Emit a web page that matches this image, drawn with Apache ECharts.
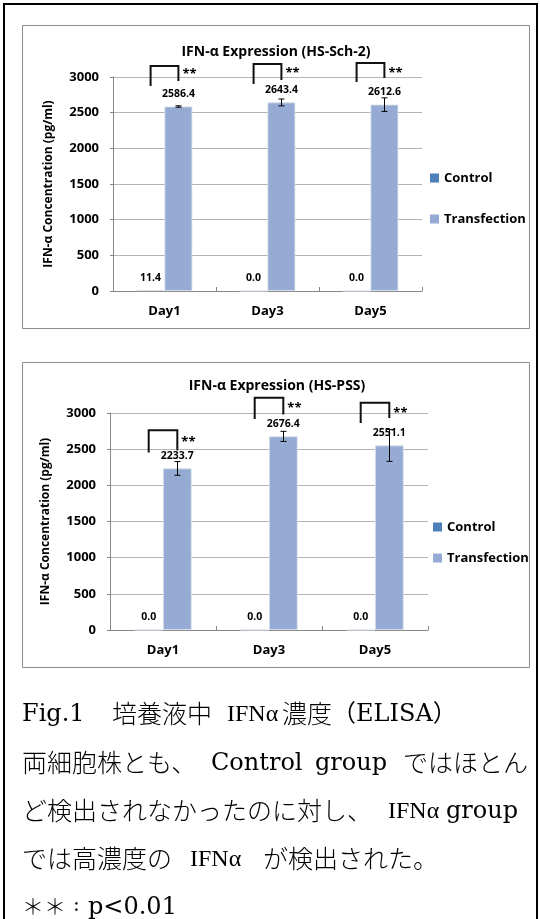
<!DOCTYPE html>
<html>
<head>
<meta charset="utf-8">
<script src="https://cdn.jsdelivr.net/npm/echarts@6/dist/echarts.min.js"></script>
<style>
html,body{margin:0;padding:0;background:#fff;}
#c{width:540px;height:919px;}
</style>
</head>
<body>
<div id="c"></div>
<script>
// ---------- data ----------
const days = ['Day1', 'Day3', 'Day5'];
const seriesNames = ['Control', 'Transfection'];

const sch2Control = [11.4, 0.0, 0.0];
const sch2Transfection = [2586.4, 2643.4, 2612.6];
const sch2TransErr = [10, 48, 95];
// significance bracket levels (value units): top, left leg end, right leg end, star level
const sch2BracketTop = [3154, 3182, 3196];
const sch2BracketLeft = [2874, 2902, 2930];
const sch2BracketRight = [2944, 2958, 2986];
const sch2Star = [3042, 3056, 3056];

const pssControl = [0.0, 0.0, 0.0];
const pssTransfection = [2233.7, 2676.4, 2551.1];
const pssTransErr = [95, 70, 220];
const pssBracketTop = [2760, 3210, 3141];
const pssBracketLeft = [2453, 2916, 2861];
const pssBracketRight = [2480, 2980, 2930];
const pssStar = [2600, 3070, 3000];

const sigMark = '**';
const titles = ['IFN-\u03b1 Expression (HS-Sch-2)', 'IFN-\u03b1 Expression (HS-PSS)'];
const yName = 'IFN-\u03b1 Concentration (pg/ml)';

// ---------- styles ----------
const FONT = "'Open Sans', 'DejaVu Sans', sans-serif";
const BAR_FRAC = 0.27;
const colControl = '#4f7fbb';
const colTrans = '#95abd3';

const chart = echarts.init(document.getElementById('c'), null, {renderer: 'canvas'});

function errSeries(g, vals, errs) {
  return {
    type: 'custom', xAxisIndex: g, yAxisIndex: g, z: 5, silent: true,
    data: vals.map((v, i) => [i, v, errs[i]]),
    encode: {x: 0, y: 1},
    renderItem: function (params, api) {
      const i = api.value(0), v = api.value(1), e = api.value(2);
      const w = api.size([1, 0])[0];
      const off = w * BAR_FRAC / 2;
      const pt = api.coord([i, v + e]), pb = api.coord([i, v - e]);
      const x = Math.round(pt[0] + off) + 0.5;
      const s = {stroke: '#000', lineWidth: 1};
      return {type: 'group', children: [
        {type: 'line', shape: {x1: x, y1: pt[1], x2: x, y2: pb[1]}, style: s},
        {type: 'line', shape: {x1: x - 3, y1: pt[1], x2: x + 3, y2: pt[1]}, style: s},
        {type: 'line', shape: {x1: x - 3, y1: pb[1], x2: x + 3, y2: pb[1]}, style: s}
      ]};
    }
  };
}

function bracketSeries(g, tops, lefts, rights, stars) {
  return {
    type: 'custom', xAxisIndex: g, yAxisIndex: g, z: 6, silent: true, clip: false,
    data: tops.map((t, i) => [i, t, lefts[i], rights[i], stars[i]]),
    encode: {x: 0, y: 1},
    renderItem: function (params, api) {
      const i = api.value(0);
      const w = api.size([1, 0])[0];
      const off = w * BAR_FRAC / 2;
      const pT = api.coord([i, api.value(1)]);
      const yL = api.coord([i, api.value(2)])[1];
      const yR = api.coord([i, api.value(3)])[1];
      const yS = api.coord([i, api.value(4)])[1];
      const xl = pT[0] - off, xr = pT[0] + off;
      return {type: 'group', children: [
        {type: 'polyline', shape: {points: [[xl, yL], [xl, pT[1]], [xr, pT[1]], [xr, yR]]},
         style: {stroke: '#111', lineWidth: 2, fill: null}},
        {type: 'text', x: xr + 4, y: yS,
         style: {text: sigMark, font: 'bold 13px ' + FONT, fill: '#000', textVerticalAlign: 'middle', textAlign: 'left'}}
      ]};
    }
  };
}

function barSeries(g, name, vals, color) {
  return {
    name: name, type: 'bar', xAxisIndex: g, yAxisIndex: g,
    data: vals, barWidth: (BAR_FRAC * 100) + '%', barGap: '0%',
    itemStyle: {color: color, borderColor: '#d9dfea', borderWidth: 0.8},
    label: {show: true, position: 'top', distance: 7, color: '#000',
      fontFamily: FONT, fontWeight: 'bold', fontSize: 10.5,
      formatter: p => Number(p.value).toFixed(1)}
  };
}

const grids = [
  {left: 113, top: 77, width: 309, height: 214},
  {left: 110, top: 413, width: 318, height: 217}
];

function xAx(g) {
  return {
    type: 'category', gridIndex: g, data: days,
    axisLine: {lineStyle: {color: '#868686', width: 1}},
    axisTick: {show: true, inside: true, length: 4, lineStyle: {color: '#868686'}},
    axisLabel: {color: '#000', fontFamily: FONT, fontWeight: 'bold', fontSize: 13, margin: 14}
  };
}
function yAx(g) {
  return {
    type: 'value', gridIndex: g, min: 0, max: 3000, interval: 500,
    name: yName, nameLocation: 'middle', nameRotate: 90, nameGap: 58,
    nameTextStyle: {color: '#000', fontFamily: FONT, fontWeight: 'bold', fontSize: 12},
    axisLine: {show: true, lineStyle: {color: '#868686'}},
    axisTick: {show: true, length: 3, lineStyle: {color: '#868686'}},
    splitLine: {lineStyle: {color: '#b4b4b4'}},
    axisLabel: {color: '#000', fontFamily: FONT, fontWeight: 'bold', fontSize: 13, margin: 14,
      formatter: v => String(v)}
  };
}

const legendStyle = {color: '#000', fontFamily: FONT, fontWeight: 'bold', fontSize: 13, lineHeight: 16};

const serif = "'DejaVu Serif', 'Noto Sans CJK JP', serif";
const serifNarrow = "'Liberation Serif', 'Noto Sans CJK JP', serif";
const cjk = "'Noto Sans CJK JP', sans-serif";
function t(txt, x, y, family, size, weight) {
  return {type: 'text', x: x, y: y, silent: true,
    style: {text: txt, font: (weight || 'normal') + ' ' + size + 'px ' + family, fill: '#000', textVerticalAlign: 'middle', textAlign: 'left'}};
}

const graphic = [
  {type: 'rect', shape: {x: 4, y: 4, width: 533, height: 930}, style: {fill: null, stroke: '#000', lineWidth: 2}, silent: true, z: -10},
  {type: 'rect', shape: {x: 22.5, y: 25.5, width: 507, height: 303}, style: {fill: null, stroke: '#8c8c8c', lineWidth: 1}, silent: true, z: -10},
  {type: 'rect', shape: {x: 22.5, y: 362.5, width: 507, height: 305}, style: {fill: null, stroke: '#8c8c8c', lineWidth: 1}, silent: true, z: -10},
  {type: 'text', x: 276, y: 52, silent: true, style: {text: titles[0], font: 'bold 14px ' + FONT, fill: '#000', textAlign: 'center', textVerticalAlign: 'middle'}},
  {type: 'text', x: 277, y: 386, silent: true, style: {text: titles[1], font: 'bold 14px ' + FONT, fill: '#000', textAlign: 'center', textVerticalAlign: 'middle'}},
  // caption
  t('Fig.1', 22, 715, serif, 24),
  t('培養液中', 112, 713, cjk, 25, 300),
  t('IFN\u03b1', 227, 715, serifNarrow, 24),
  t('濃度', 282, 713, cjk, 25, 300),
  t('（ELISA）', 332, 715, serif, 24),
  t('両細胞株とも、', 22, 762, cjk, 25, 300),
  t('Control', 211, 764, serif, 24),
  t('group', 315, 764, serif, 24),
  t('ではほとん', 403, 762, cjk, 25, 300),
  t('ど検出されなかったのに対し、', 22, 810, cjk, 25, 300),
  t('IFN\u03b1', 388, 812, serifNarrow, 24),
  t('group', 446, 812, serif, 24),
  t('では高濃度の', 22, 858, cjk, 25, 300),
  t('IFN\u03b1', 190, 860, serifNarrow, 24),
  t('が検出された。', 263, 858, cjk, 25, 300),
  t('＊＊', 22, 906, cjk, 22, 300),
  t(':', 73, 906, serif, 20),
  t('p<0.01', 88, 908, serif, 24)
];

chart.setOption({
  animation: false,
  textStyle: {fontFamily: FONT},
  grid: grids,
  xAxis: [xAx(0), xAx(1)],
  yAxis: [yAx(0), yAx(1)],
  legend: [
    {data: seriesNames, orient: 'vertical', left: 425, top: 165, itemWidth: 9, itemHeight: 9, itemGap: 25, itemStyle: {borderWidth: 0}, icon: 'rect', textStyle: legendStyle, selectedMode: false},
    {data: seriesNames, orient: 'vertical', left: 428, top: 514, itemWidth: 9, itemHeight: 9, itemGap: 15, itemStyle: {borderWidth: 0}, icon: 'rect', textStyle: legendStyle, selectedMode: false}
  ],
  series: [
    barSeries(0, 'Control', sch2Control, colControl),
    barSeries(0, 'Transfection', sch2Transfection, colTrans),
    errSeries(0, sch2Transfection, sch2TransErr),
    bracketSeries(0, sch2BracketTop, sch2BracketLeft, sch2BracketRight, sch2Star),
    barSeries(1, 'Control', pssControl, colControl),
    barSeries(1, 'Transfection', pssTransfection, colTrans),
    errSeries(1, pssTransfection, pssTransErr),
    bracketSeries(1, pssBracketTop, pssBracketLeft, pssBracketRight, pssStar)
  ],
  graphic: graphic
});
</script>
</body>
</html>
